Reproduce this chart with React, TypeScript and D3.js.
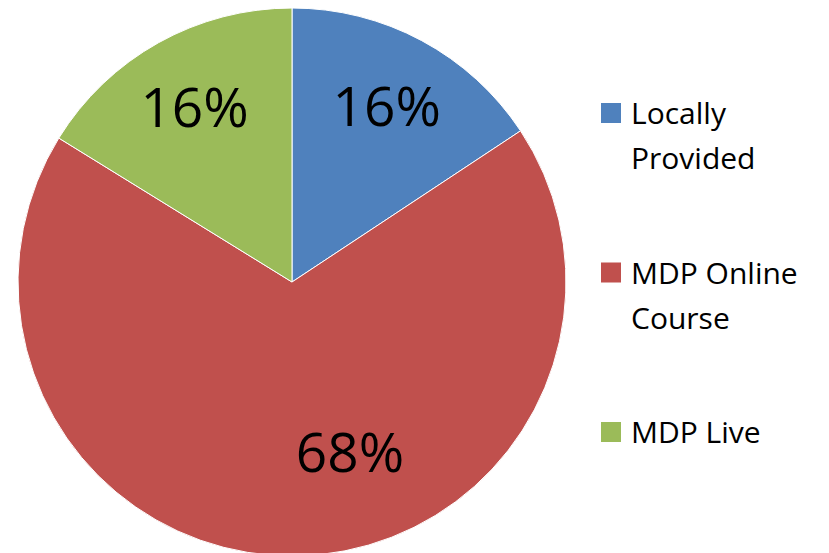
import React, { useRef, useEffect } from "react";
import * as d3 from "d3";

const categories = ["Locally Provided", "MDP Online Course", "MDP Live"];
const legendLines = [["Locally", "Provided"], ["MDP Online", "Course"], ["MDP Live"]];
const shares = [15.7, 68.1, 16.2];
const percentLabels = ["16%", "68%", "16%"];
const colors = ["#4F81BD", "#C0504D", "#9BBB59"];

const width = 829;
const height = 553;

const App: React.FC = () => {
    const svgRef = useRef<SVGSVGElement | null>(null);

    useEffect(() => {
        if (!svgRef.current) return;
        const svg = d3.select(svgRef.current);
        svg.selectAll("*").remove();

        const cx = 292;
        const cy = 282;
        const radius = 274;
        const font = "'Open Sans', 'DejaVu Sans', sans-serif";

        const pie = d3.pie<number>().sort(null).value(d => d);
        const arcs = pie(shares);
        const arc = d3.arc<d3.PieArcDatum<number>>().innerRadius(0).outerRadius(radius);

        const g = svg.append("g").attr("transform", `translate(${cx},${cy})`);

        g.selectAll("path")
            .data(arcs)
            .enter()
            .append("path")
            .attr("d", arc)
            .attr("fill", (_, i) => colors[i])
            .attr("stroke", "#ffffff")
            .attr("stroke-width", 1);

        // -----------------------------
        // Data labels (Excel "best fit" nudges the big one right and up)
        // -----------------------------
        const labelRadius = [200, 180, 200];
        const angleShift = [0, -0.312, 0];
        const mid = (d: d3.PieArcDatum<number>, i: number) => (d.startAngle + d.endAngle) / 2 + angleShift[i];
        g.selectAll("text.pct")
            .data(arcs)
            .enter()
            .append("text")
            .attr("class", "pct")
            .attr("x", (d, i) => labelRadius[i] * Math.sin(mid(d, i)))
            .attr("y", (d, i) => -labelRadius[i] * Math.cos(mid(d, i)))
            .attr("dy", "0.36em")
            .attr("text-anchor", "middle")
            .attr("font-family", font)
            .attr("font-size", 55)
            .attr("fill", "#000")
            .text((_, i) => percentLabels[i]);

        // -----------------------------
        // Legend
        // -----------------------------
        const legendY = d3.scalePoint<string>()
            .domain(categories)
            .range([103, 422]);

        const items = svg.selectAll("g.legend")
            .data(categories)
            .enter()
            .append("g")
            .attr("class", "legend")
            .attr("transform", d => `translate(601,${legendY(d)})`);

        items.append("rect")
            .attr("width", 20)
            .attr("height", 20)
            .attr("fill", (_, i) => colors[i]);

        items.each(function (_, i) {
            const t = d3.select(this).append("text")
                .attr("font-family", font)
                .attr("font-size", 30)
                .attr("fill", "#000");
            legendLines[i].forEach((line, j) => {
                t.append("tspan")
                    .attr("x", 30)
                    .attr("y", 21 + j * 45)
                    .text(line);
            });
        });
    }, []);

    return (
        <svg
            ref={svgRef}
            width={width}
            height={height}
            style={{ position: "absolute", left: 0, top: 0, background: "#fff" }}
        />
    );
};

export default App;
